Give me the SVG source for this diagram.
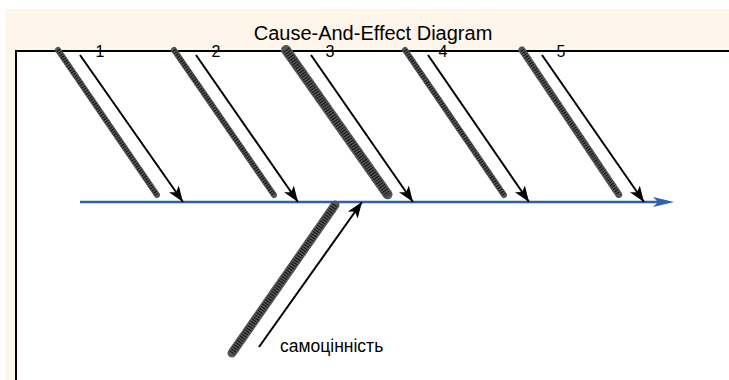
<svg xmlns="http://www.w3.org/2000/svg" width="729" height="380" viewBox="0 0 729 380">
<defs>
<marker id="ah" markerUnits="userSpaceOnUse" markerWidth="18" markerHeight="14" refX="16" refY="7" orient="auto" viewBox="0 0 18 14">
<path d="M0,1 L16,7 L0,13 L4,7 z" fill="#000"/>
</marker>
<style>
.bg{fill:#fef6ea}
.frame{fill:#fff;stroke:none}
.fl{stroke:#000;stroke-width:2;fill:none}
.title{font-family:"Liberation Sans",Arial,sans-serif;font-size:20px;fill:#000}
.num{font-family:"Liberation Sans",Arial,sans-serif;font-size:16px;fill:#000}
.lbl{font-family:"Liberation Sans",Arial,sans-serif;font-size:17.5px;fill:#000}
.arr{stroke:#000;stroke-width:2;fill:none;marker-end:url(#ah)}
.h1{stroke:#555;stroke-dasharray:1.5 1;fill:none;stroke-linecap:round}
.h2{stroke:#111;stroke-dasharray:1 1.6;fill:none}
.axis{stroke:#2f5fb0;stroke-width:2.5;fill:none}
</style>
</defs>
<rect class="bg" x="5" y="9" width="724" height="371"/>
<rect class="frame" x="16" y="51" width="713" height="329"/>
<path class="fl" d="M729,51 H16 V380"/>
<text class="title" x="373" y="40" text-anchor="middle">Cause-And-Effect Diagram</text>
<g id="axis">
<line class="axis" x1="80" y1="202" x2="660" y2="202"/>
<path d="M653,197 L674,202 L653,207 L658,202 z" fill="#2f5fb0"/>
</g>
<g id="cause1">
<line class="h1" x1="58" y1="50" x2="157" y2="195" stroke-width="6"/>
<line class="h2" x1="58" y1="50" x2="157" y2="195" stroke-width="4"/>
<text class="num" x="100" y="57" text-anchor="middle">1</text>
</g>
<g id="cause2">
<line class="h1" x1="174" y1="50" x2="274" y2="195" stroke-width="6"/>
<line class="h2" x1="174" y1="50" x2="274" y2="195" stroke-width="4"/>
<text class="num" x="216" y="57" text-anchor="middle">2</text>
</g>
<g id="cause3">
<line class="h1" x1="286" y1="50" x2="388" y2="195" stroke-width="10"/>
<line class="h2" x1="286" y1="50" x2="388" y2="195" stroke-width="7"/>
<text class="num" x="330" y="57" text-anchor="middle">3</text>
</g>
<g id="cause4">
<line class="h1" x1="405" y1="50" x2="504" y2="195" stroke-width="6"/>
<line class="h2" x1="405" y1="50" x2="504" y2="195" stroke-width="4"/>
<text class="num" x="443" y="57" text-anchor="middle">4</text>
</g>
<g id="cause5">
<line class="h1" x1="522" y1="50" x2="619" y2="195" stroke-width="7"/>
<line class="h2" x1="522" y1="50" x2="619" y2="195" stroke-width="4"/>
<text class="num" x="561" y="57" text-anchor="middle">5</text>
</g>
<g id="cause6">
<line class="h1" x1="335" y1="205" x2="232" y2="353" stroke-width="9"/>
<line class="h2" x1="335" y1="205" x2="232" y2="353" stroke-width="6"/>
<text class="lbl" x="280" y="352">самоцінність</text>
</g>
<g id="connectors">
<line class="arr" x1="80" y1="55" x2="183" y2="202"/>
<line class="arr" x1="196" y1="55" x2="298" y2="202"/>
<line class="arr" x1="311" y1="55" x2="413" y2="202"/>
<line class="arr" x1="428" y1="55" x2="529" y2="202"/>
<line class="arr" x1="542" y1="55" x2="644" y2="202"/>
<line class="arr" x1="259" y1="347" x2="362" y2="202"/>
</g>
</svg>
